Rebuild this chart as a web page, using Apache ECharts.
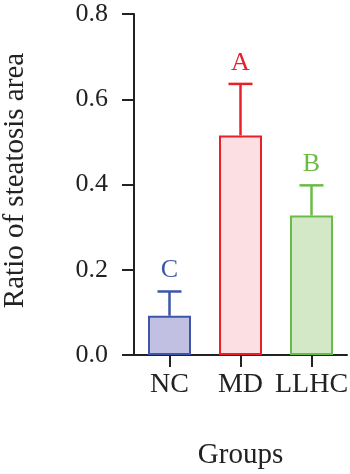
<!DOCTYPE html>
<html>
<head>
<meta charset="utf-8">
<script src="https://cdn.jsdelivr.net/npm/echarts@6/dist/echarts.min.js"></script>
<style>html,body{margin:0;padding:0;background:#fff}#c{width:350px;height:474px}</style>
</head>
<body>
<div id="c"></div>
<script>
const categories = ['NC', 'MD', 'LLHC'];
const means = [0.092, 0.515, 0.327];
const errors = [0.057, 0.121, 0.071];
const letters = ['C', 'A', 'B'];

const strokeColors = ['#3d56a8', '#e8202a', '#6bbb47'];
const fillColors = ['#c2c0e2', '#fcdfe2', '#d3e8c6'];
const FONT = '"Liberation Serif", "DejaVu Serif", serif';

const chart = echarts.init(document.getElementById('c'));
chart.setOption({
  animation: false,
  grid: { left: 134, right: 3, top: 14, bottom: 119, containLabel: false, outerBoundsMode: 'none' },
  xAxis: {
    type: 'category',
    data: categories,
    name: 'Groups',
    nameLocation: 'middle',
    nameGap: 86,
    nameTextStyle: { fontFamily: FONT, fontSize: 29, color: '#222' },
    axisLine: { show: true, lineStyle: { color: '#222', width: 2 } },
    axisTick: { show: true, inside: false, alignWithLabel: true, length: 12, lineStyle: { color: '#222', width: 2 } },
    axisLabel: { interval: 0, hideOverlap: false, fontFamily: FONT, fontSize: 28, color: '#222', margin: 16 }
  },
  yAxis: {
    type: 'value',
    min: 0, max: 0.8, interval: 0.2,
    name: 'Ratio of steatosis area',
    nameLocation: 'middle',
    nameGap: 104,
    nameTextStyle: { fontFamily: FONT, fontSize: 29, color: '#222', padding: [0, 0, 0, 8] },
    splitLine: { show: false },
    axisLine: { show: true, lineStyle: { color: '#222', width: 2 } },
    axisTick: { show: true, inside: false, length: 12, lineStyle: { color: '#222', width: 2 } },
    axisLabel: { fontFamily: FONT, fontSize: 26, color: '#222', margin: 26,
      formatter: v => v.toFixed(1) }
  },
  series: [
    {
      type: 'bar',
      barWidth: 43,
      data: means.map((v, i) => ({
        value: v,
        itemStyle: { color: fillColors[i], borderColor: strokeColors[i], borderWidth: 2 }
      })),
      z: 2
    },
    {
      type: 'custom',
      z: 3,
      data: means.map((v, i) => [i, v, v + errors[i]]),
      renderItem: function (params, api) {
        const i = api.value(0);
        const base = api.coord([i, api.value(1)]);
        const top = api.coord([i, api.value(2)]);
        const x = base[0];
        const half = 12;
        const col = strokeColors[i];
        return {
          type: 'group',
          children: [
            { type: 'line', shape: { x1: x, y1: base[1], x2: x, y2: top[1] },
              style: { stroke: col, lineWidth: 2.5 } },
            { type: 'line', shape: { x1: x - half, y1: top[1], x2: x + half, y2: top[1] },
              style: { stroke: col, lineWidth: 2.5 } },
            { type: 'text', x: x, y: top[1] - 8,
              style: { text: letters[i], fill: col, fontFamily: FONT, fontSize: 26,
                align: 'center', verticalAlign: 'bottom' } }
          ]
        };
      }
    }
  ]
});
</script>
</body>
</html>
